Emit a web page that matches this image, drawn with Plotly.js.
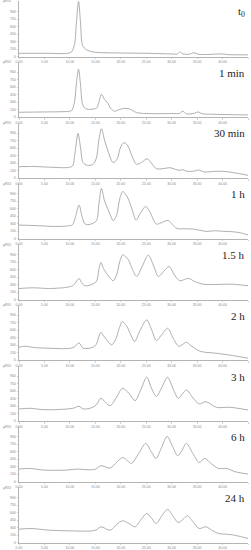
<!DOCTYPE html>
<html><head><meta charset="utf-8">
<script src="https://cdn.plot.ly/plotly-3.0.1.min.js"></script>
<style>html,body{margin:0;padding:0;background:#fff}#chart{width:251px;height:550px}</style>
</head><body><div id="chart"></div>
<script>
const panelLabels = ["t<sub>0</sub>", "1 min", "30 min", "1 h", "1.5 h", "2 h", "3 h", "6 h", "24 h"];
const xTickVals = [0, 5, 10, 15, 20, 25, 30, 35, 40, 45];
const yTickVals = [0, 150, 300, 450, 600, 750, 900];
const unitLabel = "µRIU";

const timeT0 = [0,5,9.5,10.3,10.9,11.3,11.7,12.1,12.5,13.2,14,15,20,25,30,31.1,31.6,32.2,33.5,34.4,35.2,37,39.8,41,45];
const signalT0 = [64,64,64,90,240,700,1100,660,220,140,104,84,70,64,52,50,90,52,46,76,46,40,52,38,34];

const time1min = [0,5,9.5,10.3,10.9,11.3,11.7,12.1,12.5,13.1,14.3,15.3,15.8,16.2,16.8,17.4,18.0,18.8,19.6,20.6,21.6,23.1,25,30.3,31.5,32.2,32.9,34.5,35.2,36.0,38,45];
const signal1min = [100,106,116,130,300,700,960,640,260,170,160,190,340,460,360,290,180,120,150,176,170,94,74,74,76,120,70,80,106,70,60,46];

const time30min = [0,3,6,9.5,10.5,11.0,11.6,12.1,12.6,13.4,14.5,15.2,15.7,16.2,16.8,17.3,17.9,18.5,19.3,19.9,20.6,21.4,22.2,23.1,24.2,25.2,26,27,28.5,29.7,30.8,31.6,32.2,33,34.5,35.2,36.5,38,40,42,45];
const signal30min = [226,230,216,210,240,500,894,600,306,254,270,400,760,986,760,600,420,306,380,600,706,640,440,274,320,386,300,186,190,206,170,154,166,134,140,160,120,130,134,110,54];

const time1h = [0,4,7,9.5,10.5,11.1,11.8,12.4,13,14,15.2,15.7,16.2,16.8,17.4,18.0,18.5,19.2,19.8,20.4,21.0,21.5,22.3,23,23.9,24.9,25.8,27,28.2,29.3,30.2,31,32.5,34.2,35.5,36.9,38.2,40,42,43.5,45];
const signal1h = [274,260,246,256,280,440,674,440,294,290,360,700,1006,760,606,460,360,480,800,946,880,794,560,374,520,646,520,294,330,366,280,206,200,194,170,146,160,150,140,120,74];

const time1_5h = [0,2.8,6,9.5,10.6,11.2,11.8,12.4,13,14,15.2,15.7,16.1,16.6,17.1,17.8,18.5,19.2,19.8,20.4,21.0,21.5,22.3,23.1,24.2,25.4,26.5,27.4,28.5,29.5,30.6,31.6,32.5,33.4,34.5,36.2,38.6,41.8,45];
const signal1_5h = [220,234,220,246,280,350,420,320,274,290,360,600,740,620,540,440,374,500,760,894,850,794,600,460,660,886,660,460,570,660,480,374,400,420,360,306,300,306,274];

const time2h = [0,1.2,3,6,9.5,10.8,11.8,12.6,14.5,15.2,15.7,16.1,16.6,17.0,17.6,18.2,19,19.7,20.3,20.9,21.3,22,22.7,23.8,25.1,26.1,27,28.1,29.2,30.3,31.4,32.2,32.9,33.8,35.6,38.8,42,45];
const signal2h = [260,280,254,240,234,260,346,240,260,320,480,560,490,440,360,306,420,640,774,720,660,500,374,600,806,600,394,520,640,440,280,320,360,290,180,140,94,40];

const time3h = [0,2.2,4.8,9.5,10.8,11.8,12.6,14.5,15.3,16.1,17,17.9,19.2,20.3,21.1,22,22.8,24.0,25.1,26.1,27,28.1,29.2,30.3,31.3,32.1,32.9,34.2,35.4,36.7,38.8,41.5,45];
const signal3h = [240,254,226,240,260,294,240,274,340,454,370,306,480,654,606,500,406,640,874,640,494,680,874,640,454,540,620,460,340,386,274,274,220];

const time6h = [0,2.2,4.8,9.5,11.5,13.4,15,16.1,17.9,19.3,20.4,21.3,22.1,23.5,24.9,26,26.9,28,29.1,30.2,31.2,32,32.9,34.2,35.4,36.5,37.8,39.2,40.8,42.5,45];
const signal6h = [254,266,234,234,254,240,250,320,274,400,486,420,366,560,766,600,466,680,906,700,520,620,766,560,386,466,360,266,266,200,154];

const time24h = [0,2.2,6,9.5,14.5,15.3,16.1,17.9,19.2,20.4,21.6,22.8,24,25.1,26.1,27,28.1,29.2,30.3,31.3,32.2,33.1,34.3,35.4,36.7,38,39.2,41.5,43.5,45];
const signal24h = [266,280,246,234,234,260,314,246,360,434,380,314,460,580,480,380,540,660,520,400,460,534,400,280,314,240,180,160,120,80];

const times = [timeT0, time1min, time30min, time1h, time1_5h, time2h, time3h, time6h, time24h];
const signals = [signalT0, signal1min, signal30min, signal1h, signal1_5h, signal2h, signal3h, signal6h, signal24h];

const W = 251, H = 550;
const traces = [];
const layout = {
  width: W, height: H,
  margin: {l: 0, r: 0, t: 0, b: 0},
  paper_bgcolor: '#fff', plot_bgcolor: '#fff',
  showlegend: false,
  annotations: []
};
for (let i = 0; i < 9; i++) {
  const n = i === 0 ? '' : String(i + 1);
  const bottomPx = 56.5 + i * 60.75;
  const topPx = bottomPx - 55.5;
  traces.push({
    type: 'scatter', mode: 'lines',
    x: times[i], y: signals[i],
    xaxis: 'x' + n, yaxis: 'y' + n,
    line: {color: '#a6a6a6', width: 0.9, shape: 'spline', smoothing: 0.9},
    hoverinfo: 'skip'
  });
  const common = {
    showline: true, linecolor: '#b4b4b4', linewidth: 1,
    ticks: 'outside', ticklen: 1.5, tickwidth: 0.6, tickcolor: '#b4b4b4',
    tickfont: {size: 3.5, color: '#888', family: 'Liberation Sans, Arial, sans-serif'},
    showgrid: false, zeroline: false, fixedrange: true
  };
  layout['xaxis' + n] = Object.assign({}, common, {
    anchor: 'y' + n, domain: [19 / W, 248 / W], range: [0, 45],
    tickmode: 'array', tickvals: xTickVals, ticktext: xTickVals.map(v => v.toFixed(2))
  });
  layout['yaxis' + n] = Object.assign({}, common, {
    anchor: 'x' + n, domain: [1 - bottomPx / H, 1 - topPx / H], range: [0, 1110],
    tickmode: 'array', tickvals: yTickVals, ticktext: yTickVals.map(String)
  });
  layout.annotations.push({
    xref: 'paper', yref: 'paper', x: 247 / W, y: 1 - (topPx + 11) / H,
    xanchor: 'right', yanchor: 'middle', showarrow: false,
    text: panelLabels[i],
    font: {family: 'Liberation Serif, DejaVu Serif, serif', size: 11, color: '#222'}
  });
  layout.annotations.push({
    xref: 'paper', yref: 'paper', x: 1 / W, y: 1 - (topPx + 0.5) / H,
    xanchor: 'left', yanchor: 'middle', showarrow: false,
    text: unitLabel,
    font: {family: 'Liberation Sans, Arial, sans-serif', size: 3.5, color: '#888'}
  });
}
Plotly.newPlot('chart', traces, layout, {staticPlot: true, displayModeBar: false});
</script>
</body></html>
